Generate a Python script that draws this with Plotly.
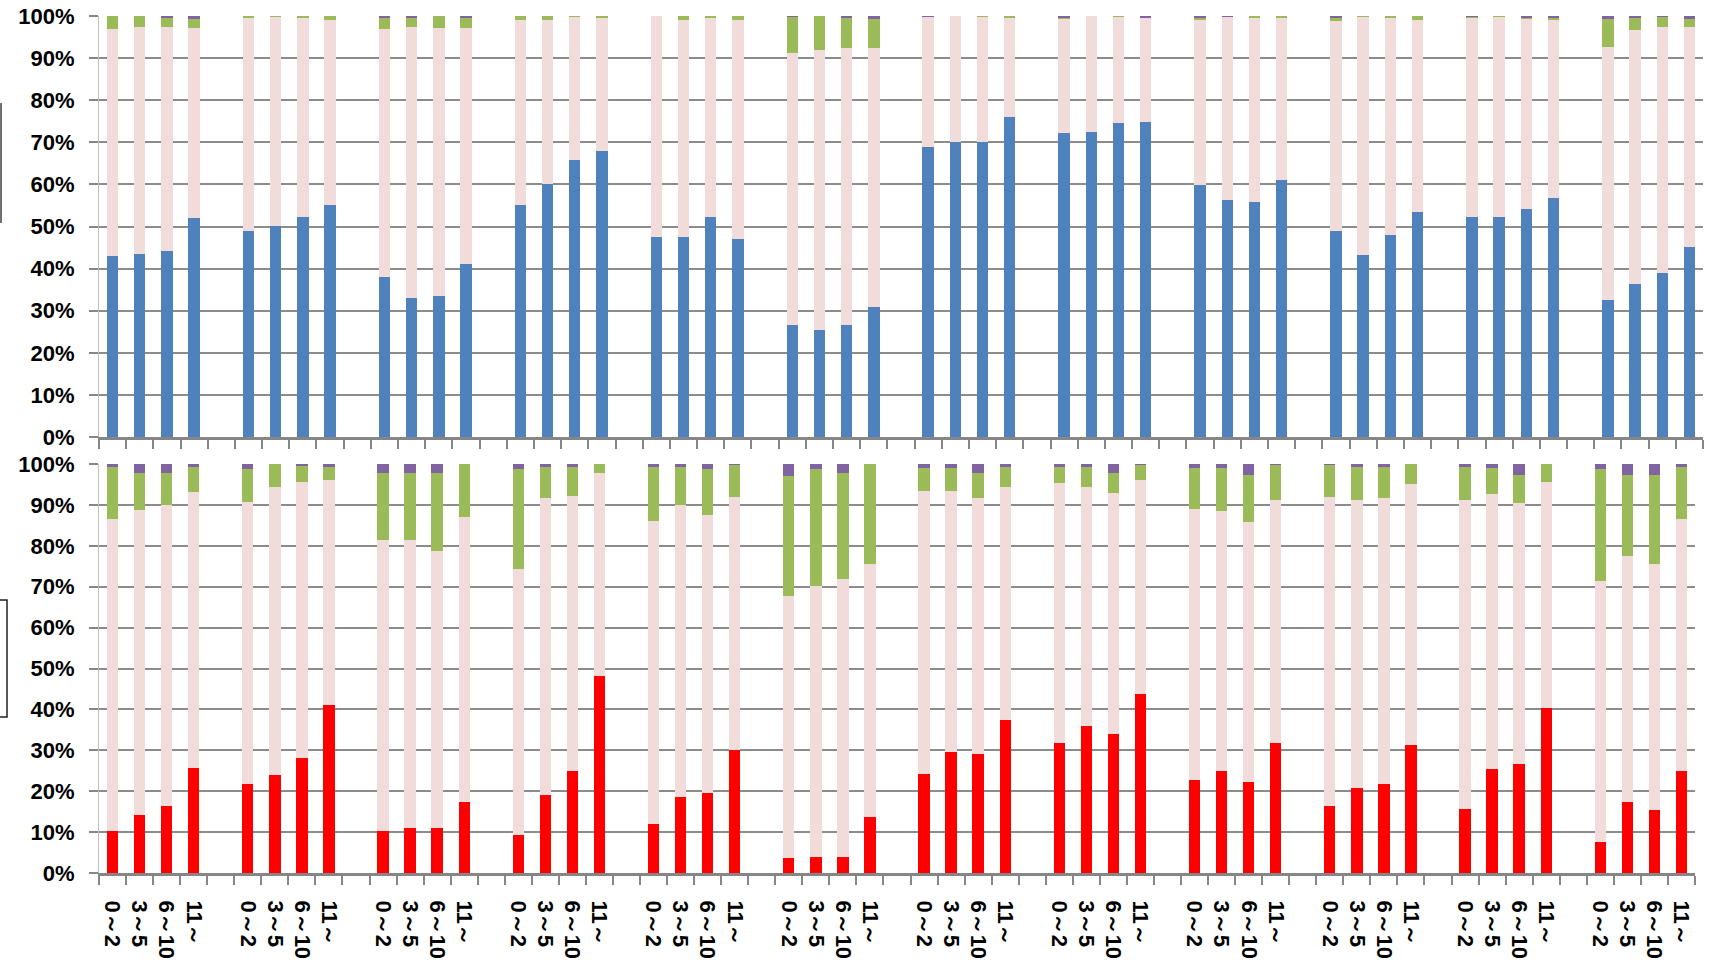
import plotly.graph_objects as go

# Categories (4 per group, 12 groups)
categories = ["0～2", "3～5", "6～10", "11～"]
n_groups = 12

# ---- Upper panel (percent shares, bottom -> top) ----
top_blue = [42.9, 43.5, 44.2, 52.0,  49.0, 50.1, 52.3, 55.2,  38.1, 33.0, 33.4, 41.1,
            55.1, 60.1, 65.7, 67.9,  47.4, 47.4, 52.3, 47.0,  26.6, 25.3, 26.6, 30.8,
            69.0, 70.1, 70.1, 75.9,  72.2, 72.4, 74.6, 74.9,  59.8, 56.4, 55.8, 61.0,
            49.0, 43.2, 48.0, 53.5,  52.3, 52.3, 54.2, 56.7,  32.6, 36.4, 39.0, 45.1]
top_pink = [53.9, 54.0, 53.3, 45.2,  50.7, 49.8, 47.4, 43.8,  58.7, 64.5, 63.8, 56.1,
            43.9, 38.9, 34.1, 31.8,  52.6, 51.6, 47.4, 52.0,  64.7, 66.6, 65.7, 61.5,
            30.8, 29.9, 29.8, 23.8,  27.2, 27.6, 25.3, 24.8,  39.2, 43.4, 43.9, 38.7,
            49.7, 56.6, 51.7, 45.5,  47.4, 47.6, 45.2, 42.3,  60.1, 60.2, 58.5, 52.4]
top_green = [3.2, 2.5, 2.1, 2.2,  0.3, 0.1, 0.3, 1.0,  2.9, 2.2, 2.8, 2.4,
             1.0, 1.0, 0.2, 0.3,  0.0, 1.0, 0.3, 1.0,  8.5, 8.1, 7.4, 7.1,
             0.0, 0.0, 0.1, 0.3,  0.3, 0.0, 0.1, 0.0,  0.7, 0.0, 0.3, 0.3,
             0.9, 0.2, 0.3, 1.0,  0.1, 0.1, 0.1, 0.5,  6.7, 3.1, 2.3, 1.9]
top_purple = [0.0, 0.0, 0.4, 0.6,  0.0, 0.0, 0.0, 0.0,  0.3, 0.3, 0.0, 0.4,
              0.0, 0.0, 0.0, 0.0,  0.0, 0.0, 0.0, 0.0,  0.2, 0.0, 0.3, 0.6,
              0.2, 0.0, 0.0, 0.0,  0.3, 0.0, 0.0, 0.3,  0.3, 0.2, 0.0, 0.0,
              0.4, 0.0, 0.0, 0.0,  0.2, 0.0, 0.5, 0.5,  0.6, 0.3, 0.2, 0.6]

# ---- Lower panel ----
bot_red = [10.3, 14.1, 16.4, 25.7,  21.8, 24.0, 28.0, 41.0,  10.3, 11.1, 10.9, 17.3,
           9.3, 19.0, 25.0, 48.1,  12.1, 18.5, 19.5, 30.1,  3.7, 4.0, 4.0, 13.8,
           24.3, 29.7, 29.1, 37.3,  31.9, 36.0, 34.0, 43.7,  22.7, 24.9, 22.3, 31.9,
           16.3, 20.9, 21.8, 31.2,  15.7, 25.4, 26.6, 40.4,  7.6, 17.3, 15.3, 25.0]
bot_pink = [76.3, 74.6, 73.5, 67.4,  69.0, 70.4, 67.7, 55.2,  71.2, 70.4, 67.8, 69.7,
            65.1, 72.8, 67.2, 49.6,  73.9, 71.4, 68.1, 61.8,  64.1, 66.1, 68.0, 61.8,
            69.1, 63.7, 62.6, 57.1,  63.5, 58.4, 58.9, 52.5,  66.3, 63.7, 63.6, 59.2,
            75.6, 70.4, 69.9, 63.9,  75.4, 67.3, 63.8, 55.2,  63.7, 60.2, 60.3, 61.6]
bot_green = [12.7, 9.2, 8.0, 6.2,  8.0, 5.6, 4.0, 3.1,  16.4, 16.2, 19.2, 13.0,
             24.4, 7.5, 7.1, 2.3,  13.3, 9.4, 11.2, 7.9,  29.2, 28.7, 25.7, 24.4,
             5.7, 5.7, 6.2, 4.9,  3.9, 4.9, 5.0, 3.6,  10.1, 10.5, 11.4, 8.7,
             7.9, 8.0, 7.6, 4.9,  8.2, 6.4, 6.9, 4.4,  27.4, 19.8, 21.7, 12.7]
bot_purple = [0.7, 2.1, 2.1, 0.7,  1.2, 0.0, 0.3, 0.7,  2.1, 2.3, 2.1, 0.0,
              1.2, 0.7, 0.7, 0.0,  0.7, 0.7, 1.2, 0.2,  3.0, 1.2, 2.3, 0.0,
              0.9, 0.9, 2.1, 0.7,  0.7, 0.7, 2.1, 0.2,  0.9, 0.9, 2.7, 0.2,
              0.2, 0.7, 0.7, 0.0,  0.7, 0.9, 2.7, 0.0,  1.3, 2.7, 2.7, 0.7]

ytick_vals = list(range(0, 101, 10))
ytick_text = [f"{v}%" for v in ytick_vals]

# slot positions: 4 bars + 1 empty slot per group
xpos = [5 * g + b for g in range(n_groups) for b in range(len(categories))]
xlabels = [categories[b] for g in range(n_groups) for b in range(len(categories))]
n_slots = 5 * n_groups - 1
boundaries = [k - 0.5 for k in range(n_slots + 1)]

BLUE = "#4F81BD"
RED = "#FF0000"
PINK = "#F2DCDB"
GREEN = "#9BBB59"
PURPLE = "#8064A2"
BAR_W = 0.42

fig = go.Figure()
for vals, col in [(top_blue, BLUE), (top_pink, PINK), (top_green, GREEN), (top_purple, PURPLE)]:
    fig.add_trace(go.Bar(x=xpos, y=vals, marker=dict(color=col, line=dict(width=0)),
                         width=BAR_W, xaxis="x", yaxis="y", showlegend=False, hoverinfo="skip"))
for vals, col in [(bot_red, RED), (bot_pink, PINK), (bot_green, GREEN), (bot_purple, PURPLE)]:
    fig.add_trace(go.Bar(x=xpos, y=vals, marker=dict(color=col, line=dict(width=0)),
                         width=BAR_W, xaxis="x2", yaxis="y2", showlegend=False, hoverinfo="skip"))

W, H = 1709, 969
GRID = "#8C8C8C"
AXIS = "#868686"
FONT = dict(family="Liberation Sans, Arial, sans-serif", size=22, color="black", weight="bold")

def yaxis_cfg(domain, anchor):
    return dict(domain=domain, anchor=anchor, range=[0, 100], tickmode="array",
                tickvals=ytick_vals, ticktext=ytick_text, showgrid=True, gridcolor=GRID,
                gridwidth=1.5, zeroline=False, showline=True, linecolor="#BFBFBF", linewidth=1,
                ticks="outside", ticklen=9, tickwidth=2, tickcolor=AXIS, tickfont=FONT,
                ticklabelstandoff=10, automargin=False)

def xaxis_cfg(domain, anchor, labels):
    cfg = dict(domain=domain, anchor=anchor, range=[-0.5, n_slots - 0.5], tickmode="array",
               tickvals=xpos, ticktext=xlabels, ticks="", showgrid=False, zeroline=False,
               showline=True, linecolor=AXIS, linewidth=3, showticklabels=labels,
               minor=dict(tickmode="array", tickvals=boundaries, ticks="outside", ticklen=9,
                          tickwidth=2, tickcolor=AXIS, showgrid=False),
               tickfont=FONT, automargin=False)
    if labels:
        cfg.update(tickangle=90, ticklabelstandoff=20)
    return cfg

fig.update_layout(
    width=W, height=H, margin=dict(l=0, r=0, t=0, b=0, autoexpand=False),
    paper_bgcolor="white", plot_bgcolor="white", barmode="stack",
    xaxis=xaxis_cfg([99 / W, 1703 / W], "y", False),
    yaxis=yaxis_cfg([1 - 437 / H, 1 - 16 / H], "x"),
    xaxis2=xaxis_cfg([99 / W, 1695 / W], "y2", True),
    yaxis2=yaxis_cfg([1 - 873 / H, 1 - 464 / H], "x2"),
    showlegend=False,
)

# cut-off legend frames at left edge
fig.add_shape(type="line", xref="paper", yref="paper", x0=1 / W, x1=1 / W,
              y0=1 - 103 / H, y1=1 - 223 / H, line=dict(color="#404040", width=1.5))
fig.add_shape(type="rect", xref="paper", yref="paper", x0=-5 / W, x1=7 / W,
              y0=1 - 600 / H, y1=1 - 717 / H, line=dict(color="#202020", width=1.5))

fig.write_html("out.html", config={"displayModeBar": False},
               post_script="document.body.style.margin='0px';document.body.style.overflow='hidden';")
